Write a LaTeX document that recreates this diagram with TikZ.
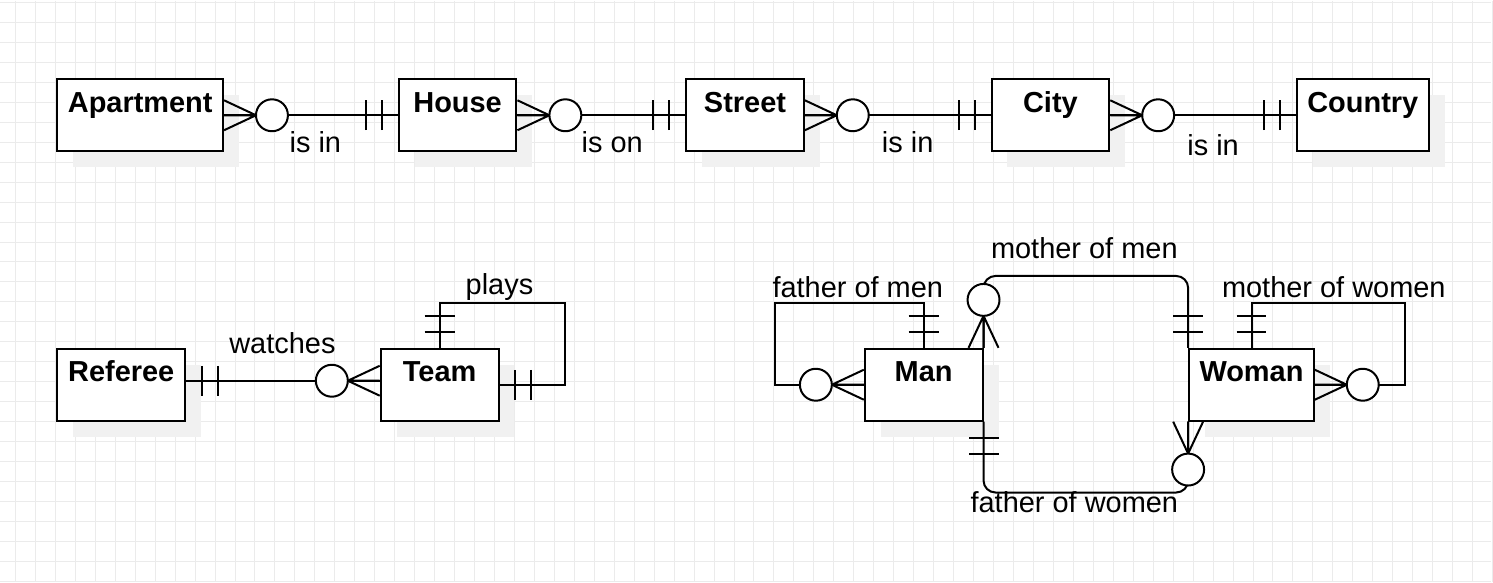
\documentclass[tikz,border=0pt]{standalone}
\usepackage{fontspec}
\setmainfont{Liberation Sans}
\usetikzlibrary{shadows}
\definecolor{gridgray}{HTML}{EBEBEB}
\definecolor{shadowgray}{HTML}{F1F1F1}
\newcommand{\zeromany}[2]{\begin{scope}[shift={(#1)},rotate=#2] \draw (0,-15) -- (32,0) -- (0,15) (0,0) -- (32,0); \draw[fill=white] (48,0) circle (16); \end{scope}}
\newcommand{\oneone}[2]{\begin{scope}[shift={(#1)},rotate=#2] \draw (16,-15) -- (16,15) (32,-15) -- (32,15); \end{scope}}
\tikzset{
  entity/.style={draw, fill=white, inner sep=0pt, text height=33pt, text depth=39pt, font=\fontsize{29}{34}\selectfont\bfseries, general shadow={shadow xshift=16pt, shadow yshift=-16pt, fill=shadowgray}},
  rel/.style={anchor=base, inner sep=0pt, font=\fontsize{29}{34}\selectfont},
  gridline/.style={line width=1pt, color=gridgray}
}
\begin{document}
\begin{tikzpicture}[x=1pt, y=-1pt, line width=2pt]
    \fill[white] (0,0) rectangle (1493,583);
    \foreach \i in {0,...,74} \draw[gridline] (15+20*\i,0) -- (15+20*\i,583);
    \foreach \j in {0,...,29} \draw[gridline] (0,2+20*\j) -- (1493,2+20*\j);
    \useasboundingbox (0,0) rectangle (1493,583);

    % places
    \node[entity, minimum width=166pt] (apartment) at (140,115) {Apartment};
    \node[entity, minimum width=118pt] (house) at (458,115) {House};
    \node[entity, minimum width=118pt] (street) at (746,115) {Street};
    \node[entity, minimum width=118pt] (city) at (1052,115) {City};
    \node[entity, minimum width=132pt] (country) at (1365,115) {Country};
    \draw (apartment) -- (house); \zeromany{apartment.east}{0} \oneone{house.west}{180}
    \draw (house) -- (street); \zeromany{house.east}{0} \oneone{street.west}{180}
    \draw (street) -- (city); \zeromany{street.east}{0} \oneone{city.west}{180}
    \draw (city) -- (country); \zeromany{city.east}{0} \oneone{country.west}{180}
    \node[rel] (isin1) at (315.5,152) {is in};
    \node[rel] (ison) at (613,152) {is on};
    \node[rel] (isin2) at (909,152) {is in};
    \node[rel] (isin3) at (1215,155) {is in};

    % football
    \node[entity, minimum width=128pt] (referee) at (121,385) {Referee};
    \node[entity, minimum width=118pt] (team) at (440,385) {Team};
    \draw ([yshift=4pt]referee.east) -- ([yshift=4pt]team.west); \oneone{[yshift=4pt]referee.east}{0} \zeromany{[yshift=4pt]team.west}{180}
    \draw (team.north) -- ++(0,-45) -| ([xshift=66pt]team.east) -- (team.east); \oneone{team.north}{90} \oneone{team.east}{0}
    \node[rel] (watches) at (282.5,354) {watches};
    \node[rel] (plays) at (500,295) {plays};

    % parents
    \node[entity, minimum width=118pt] (man) at (925,385) {Man};
    \node[entity, minimum width=125pt] (woman) at (1253.5,385) {Woman};
    \draw (man.north) -- ++(0,-45) -| ([xshift=-89pt]man.west) -- (man.west); \oneone{man.north}{90} \zeromany{man.west}{180}
    \draw (woman.north) -- ++(0,-45) -| ([xshift=90pt]woman.east) -- (woman.east); \oneone{woman.north}{90} \zeromany{woman.east}{0}
    \draw[rounded corners=12pt] (man.north east) -- ++(0,-72) -| (woman.north west); \zeromany{man.north east}{90} \oneone{woman.north west}{90}
    \draw[rounded corners=12pt] (man.south east) -- ++(0,71) -| (woman.south west); \oneone{man.south east}{-90} \zeromany{woman.south west}{-90}
    \node[rel] (fom) at (859,298) {father of men};
    \node[rel] (mow) at (1336,298) {mother of women};
    \node[rel] (mom) at (1086,259) {mother of men};
    \node[rel] (fow) at (1076,513) {father of women};
\end{tikzpicture}
\end{document}
